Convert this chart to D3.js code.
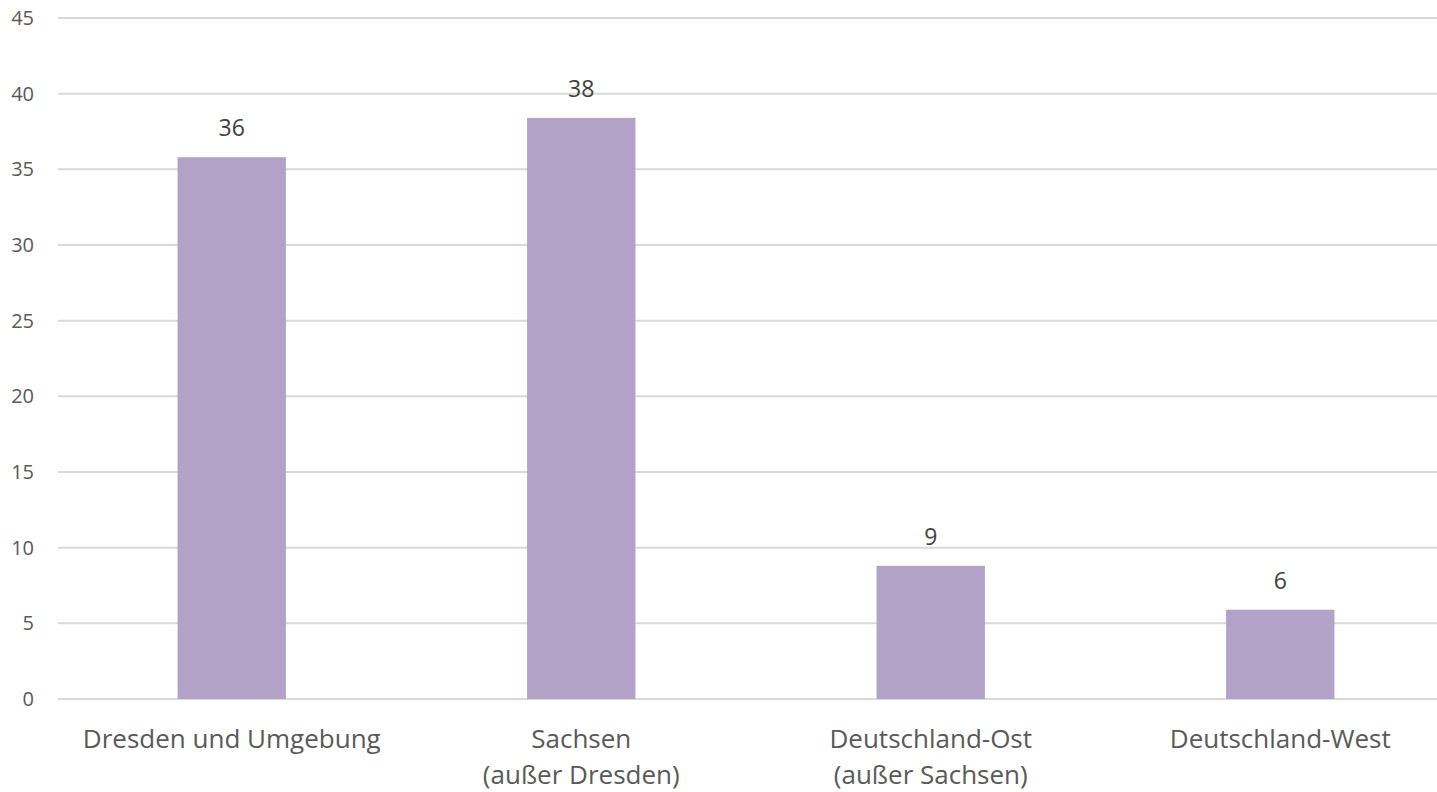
<!DOCTYPE html>
<html><head><meta charset="utf-8">
<script src="https://cdn.jsdelivr.net/npm/d3@7"></script>
<style>
html,body{margin:0;padding:0;background:#fff;}
svg{display:block;font-family:"Open Sans","Noto Sans",sans-serif;}
</style></head>
<body><svg id="chart" width="1437" height="792"></svg>
<script>
const categories = [["Dresden und Umgebung"], ["Sachsen", "(außer Dresden)"], ["Deutschland-Ost", "(außer Sachsen)"], ["Deutschland-West"]];
const values = [35.8, 38.4, 8.8, 5.9];
const yTicks = [0, 5, 10, 15, 20, 25, 30, 35, 40, 45];

const svg = d3.select("#chart");
const x = d3.scaleBand().domain(categories.map((c,i)=>i)).range([57, 1455]).paddingInner(0.69).paddingOuter(0.345);
const y = d3.scaleLinear().domain([0, 45]).range([699, 18]);

// gridlines
svg.append("g").selectAll("line").data(yTicks).join("line")
  .attr("x1", 58).attr("x2", 1437)
  .attr("y1", d=>y(d)).attr("y2", d=>y(d))
  .attr("stroke", "#d9d9d9").attr("stroke-width", 2);

// y labels
svg.append("g").selectAll("text").data(yTicks).join("text")
  .attr("x", 34).attr("y", d=>y(d)).attr("dy", "0.35em")
  .attr("text-anchor", "end").attr("fill", "#595959").attr("font-size", 20)
  .text(d=>d);

// bars
svg.append("g").selectAll("rect").data(values).join("rect")
  .attr("x", (d,i)=>x(i)).attr("width", x.bandwidth())
  .attr("y", d=>y(d)).attr("height", d=>y(0)-y(d))
  .attr("fill", "#b3a2c7");

// data labels
svg.append("g").selectAll("text").data(values).join("text")
  .attr("x", (d,i)=>x(i)+x.bandwidth()/2).attr("y", d=>y(d)-21)
  .attr("text-anchor", "middle").attr("fill", "#404040").attr("font-size", 23)
  .text(d=>d3.format(".0f")(d));

// category labels
const cg = svg.append("g").selectAll("text").data(categories).join("text")
  .attr("text-anchor", "middle").attr("fill", "#595959").attr("font-size", 26)
  .attr("x", (d,i)=>x(i)+x.bandwidth()/2).attr("y", 748);
cg.selectAll("tspan").data(d=>d).join("tspan")
  .attr("x", function(){return this.parentNode.getAttribute("x");})
  .attr("dy", (d,j)=>j===0?0:36)
  .text(d=>d);
</script></body></html>
